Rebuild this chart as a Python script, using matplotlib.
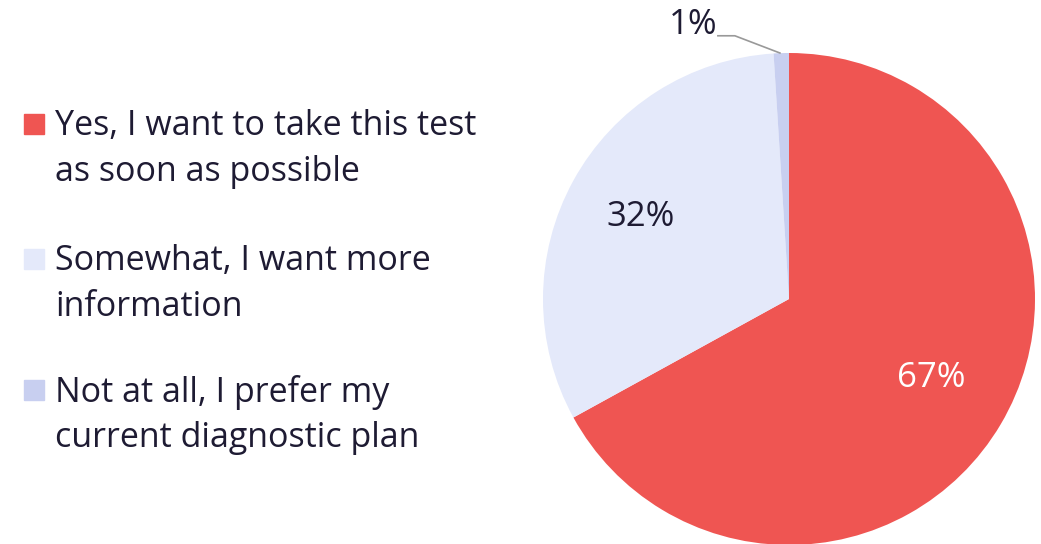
import matplotlib
matplotlib.use("Agg")
import matplotlib.pyplot as plt
from matplotlib.patches import Rectangle

categories = [["Yes, I want to take this test", "as soon as possible"],
              ["Somewhat, I want more", "information"],
              ["Not at all, I prefer my", "current diagnostic plan"]]
values = [67, 32, 1]
labels = ["67%", "32%", "1%"]
colors = ["#EF5552", "#E4E9FA", "#C8CFF0"]
text_color = "#1E1B33"

plt.rcParams['font.family'] = ['Open Sans', 'DejaVu Sans']

W, H = 1041, 544
fig = plt.figure(figsize=(W/100, H/100), dpi=100)

cx, cy, r = 789, 544 - 299, 246
ax = fig.add_axes([(cx - r)/W, (cy - r)/H, 2*r/W, 2*r/H])
ax.pie(values, colors=colors, startangle=90, counterclock=False, radius=1,
       wedgeprops=dict(linewidth=0))
ax.set_xlim(-1, 1)
ax.set_ylim(-1, 1)
ax.set_aspect('equal')
ax.axis('off')

pfs = 25
ax.text(0.577, -0.321, labels[0], color="white", fontsize=pfs, ha='center', va='center')
ax.text(-0.602, 0.333, labels[1], color=text_color, fontsize=pfs, ha='center', va='center')
ax.text(-0.39, 1.114, labels[2], color=text_color, fontsize=pfs, ha='center', va='center', clip_on=False)
ax.plot([-0.289, -0.22, -0.037], [1.07, 1.07, 1.0], color="#999999", lw=1.2, clip_on=False)

# legend
fs = 24.5
tops = [122, 257, 388]
for cat, col, y in zip(categories, colors, tops):
    fig.patches.append(Rectangle((24/W, (H - y - 12)/H), 20/W, 20/H,
                                 transform=fig.transFigure, color=col))
    for i, line in enumerate(cat):
        fig.text(55/W, (H - y - i*46)/H, line, color=text_color, fontsize=fs,
                 ha='left', va='center_baseline', transform=fig.transFigure)
fig.savefig("out.png", dpi=100)
